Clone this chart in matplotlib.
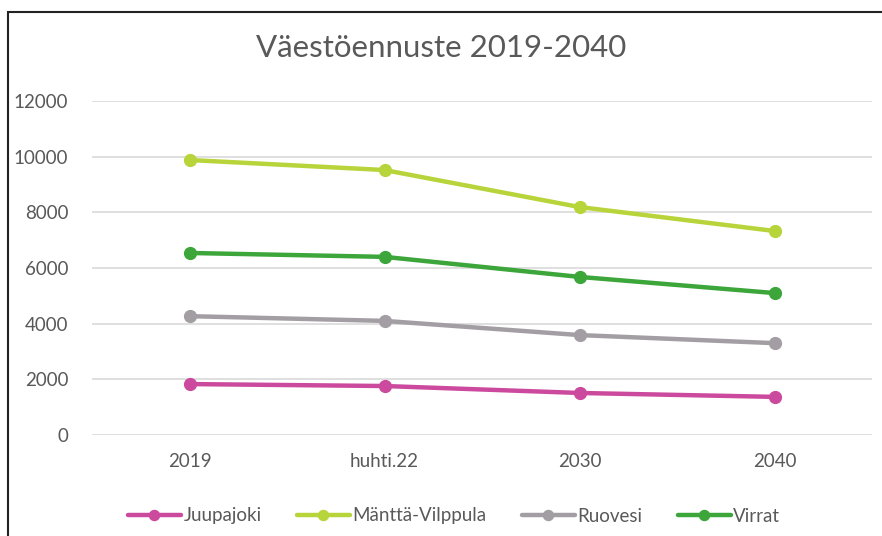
import matplotlib.pyplot as plt
from matplotlib.patches import Rectangle

# data
categories = ["2019", "huhti.22", "2030", "2040"]
juupajoki = [1830, 1760, 1510, 1370]
mantta = [9880, 9520, 8190, 7330]
ruovesi = [4270, 4100, 3590, 3300]
virrat = [6540, 6400, 5680, 5100]

series = [
    ("Juupajoki", juupajoki, "#cc4a9e"),
    ("Mänttä-Vilppula", mantta, "#b7d43a"),
    ("Ruovesi", ruovesi, "#a39ea3"),
    ("Virrat", virrat, "#3ca63a"),
]

plt.rcParams['font.family'] = ['Lato', 'DejaVu Sans']

fig = plt.figure(figsize=(8.82, 5.36), dpi=100)
ax = fig.add_axes([92 / 882, 1 - 435 / 536, (872 - 92) / 882, (435 - 101) / 536])

x = list(range(len(categories)))
for name, vals, col in series:
    ax.plot(x, vals, color=col, lw=3.2, marker="o", ms=8.5, label=name, solid_capstyle="round")

ax.set_xlim(-0.5, len(categories) - 0.5)
ax.set_ylim(0, 12000)
ax.set_yticks(range(0, 12001, 2000))
ax.set_xticks(x)
ax.set_xticklabels(categories)
ax.grid(axis="y", color="#d9d9d9", lw=1.2)
ax.set_axisbelow(True)
for s in ax.spines.values():
    s.set_visible(False)
ax.tick_params(length=0, labelsize=13.5, labelcolor="#595959")
ax.tick_params(axis="y", pad=17)
ax.tick_params(axis="x", pad=13)

fig.text(0.5, 1 - 48 / 536, "Väestöennuste 2019-2040", ha="center", va="center",
         fontsize=22.5, color="#595959")

fig.legend(loc="center", bbox_to_anchor=(0.515, 1 - 516 / 536), ncol=4, frameon=False,
           fontsize=13.5, labelcolor="#595959", handlelength=2.8, handletextpad=0.15,
           columnspacing=1.9, markerscale=0.85)

# outer frame (top and left edges visible)
fig.patches.append(Rectangle((8 / 882, -0.1), 1.2, 1 - 12 / 536 + 0.1, transform=fig.transFigure,
                             fill=False, edgecolor="#222222", lw=1.5))

fig.savefig("out.png", dpi=100)
